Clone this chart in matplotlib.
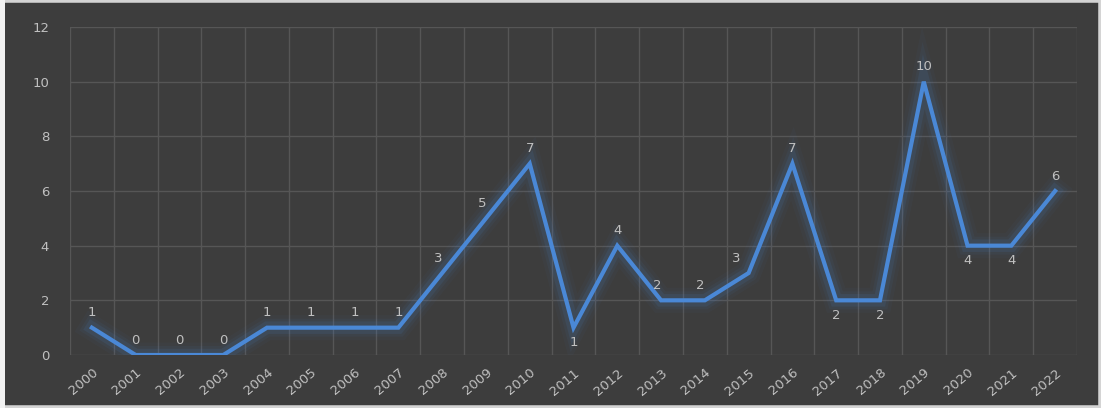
import numpy as np
import matplotlib.pyplot as plt
from matplotlib.patches import Rectangle

# yearly counts
years = [str(y) for y in range(2000, 2023)]
counts = [1, 0, 0, 0, 1, 1, 1, 1, 3, 5, 7, 1, 4, 2, 2, 3, 7, 2, 2, 10, 4, 4, 6]

# data label placement
below = {'2011', '2017', '2018', '2020', '2021'}
nudge_left = {'2008': -3, '2009': -3, '2013': -3, '2014': -3, '2015': -9}

bg = '#3d3d3d'
grid_c = '#565656'
txt_c = '#c0c0c0'
line_c = '#4a88d6'

fig = plt.figure(figsize=(11.01, 4.08), dpi=100)
fig.patch.set_facecolor(bg)
ax = fig.add_axes([70/1101, 53/408, 1007/1101, 328/408])
ax.set_facecolor(bg)

x = np.arange(len(years))

# soft glow behind the line
for lw, a in [(18, 0.04), (13, 0.06), (9, 0.10)]:
    ax.plot(x, counts, color=line_c, linewidth=lw, alpha=a, solid_joinstyle='miter', zorder=2)
ax.plot(x, counts, color=line_c, linewidth=3.0, solid_joinstyle='miter', zorder=3)

for xi, yr, v in zip(x, years, counts):
    if yr in below:
        off, va = (0, -6), 'top'
    else:
        off, va = (nudge_left.get(yr, 0), 6), 'bottom'
    ax.annotate(str(v), (xi, v), xytext=off, textcoords='offset points',
                ha='center', va=va, color=txt_c, fontsize=9.5, zorder=4)

ax.set_xlim(-0.5, len(years) - 0.5)
ax.set_ylim(0, 12)
ax.set_yticks(range(0, 13, 2))
ax.set_xticks(x)
ax.set_xticklabels(years, rotation=40, ha='right', va='top', rotation_mode='anchor')
ax.set_xticks(np.arange(-0.5, len(years)), minor=True)

ax.grid(False)
ax.xaxis.grid(True, which='minor', color=grid_c, linewidth=1.0)
ax.yaxis.grid(True, which='major', color=grid_c, linewidth=1.0)
ax.set_axisbelow(True)
ax.tick_params(which='both', length=0)
ax.tick_params(axis='y', colors=txt_c, labelsize=9.5, pad=15)
ax.tick_params(axis='x', colors=txt_c, labelsize=9.5, pad=8)
for s in ax.spines.values():
    s.set_visible(False)

# outer frame
fig.patches.append(Rectangle((0, 0), 1, 1, transform=fig.transFigure, fill=False,
                             edgecolor='#d4d4d4', linewidth=4, zorder=10))
fig.patches.append(Rectangle((0, 0), 5/1101, 1, transform=fig.transFigure,
                             facecolor='#f2f2f2', edgecolor='none', zorder=11))

fig.savefig('out.png', dpi=100, facecolor=bg)
